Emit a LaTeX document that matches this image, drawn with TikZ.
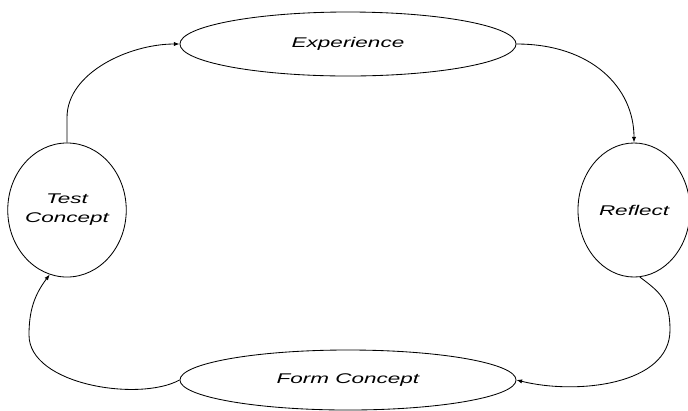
\documentclass[tikz,border=0pt]{standalone}
\usepackage{fontspec}
\usepackage{tikz}
\usetikzlibrary{shapes.geometric,arrows.meta}
\newfontfamily\diagfont[FakeStretch=1.6]{Liberation Sans}
\tikzset{main node/.style={ellipse,draw,line width=.6pt,inner sep=0pt,align=center,
    font=\diagfont\itshape\fontsize{10}{13.5}\selectfont},}
\tikzset{wide node/.style={main node,minimum width=8.4cm,minimum height=1.6cm},
    tall node/.style={main node,minimum width=2.8cm,minimum height=3.35cm},
    flow/.style={line width=.6pt,-{Latex[length=4pt,width=3pt]}},}

\begin{document}
\begin{tikzpicture}[x=0.025cm,y=-0.025cm]
    \useasboundingbox (0,0) rectangle (688,410);

    \node[wide node] (1) at (348,44) {Experience};
    \node[tall node] (2) at (634,210) {Reflect};
    \node[wide node,minimum height=1.5cm] (3) at (348,380) {Form Concept};
    \node[tall node] (4) at (67,210) {Test\\Concept};

    \coordinate (r) at (670,330);
    \coordinate (l) at (29,335);

    \path[draw,flow]
    (4.north) -- ++(0,-25) .. controls +(0,-45) and +(-50,0) .. (1.west);
    \path[draw,flow]
    (1.east) .. controls +(75,0) and +(0,-55) .. (2.north);
    \path[draw,flow]
    (2.-85) .. controls +(20,15) and +(0,-30) .. (r)
        .. controls +(0,55) and +(60,15) .. (3.east);
    \path[draw,flow]
    (3.west) .. controls +(-40,22) and +(0,50) .. (l)
        .. controls +(0,-25) and +(-15,20) .. (4.-105);
\end{tikzpicture}
\end{document}
